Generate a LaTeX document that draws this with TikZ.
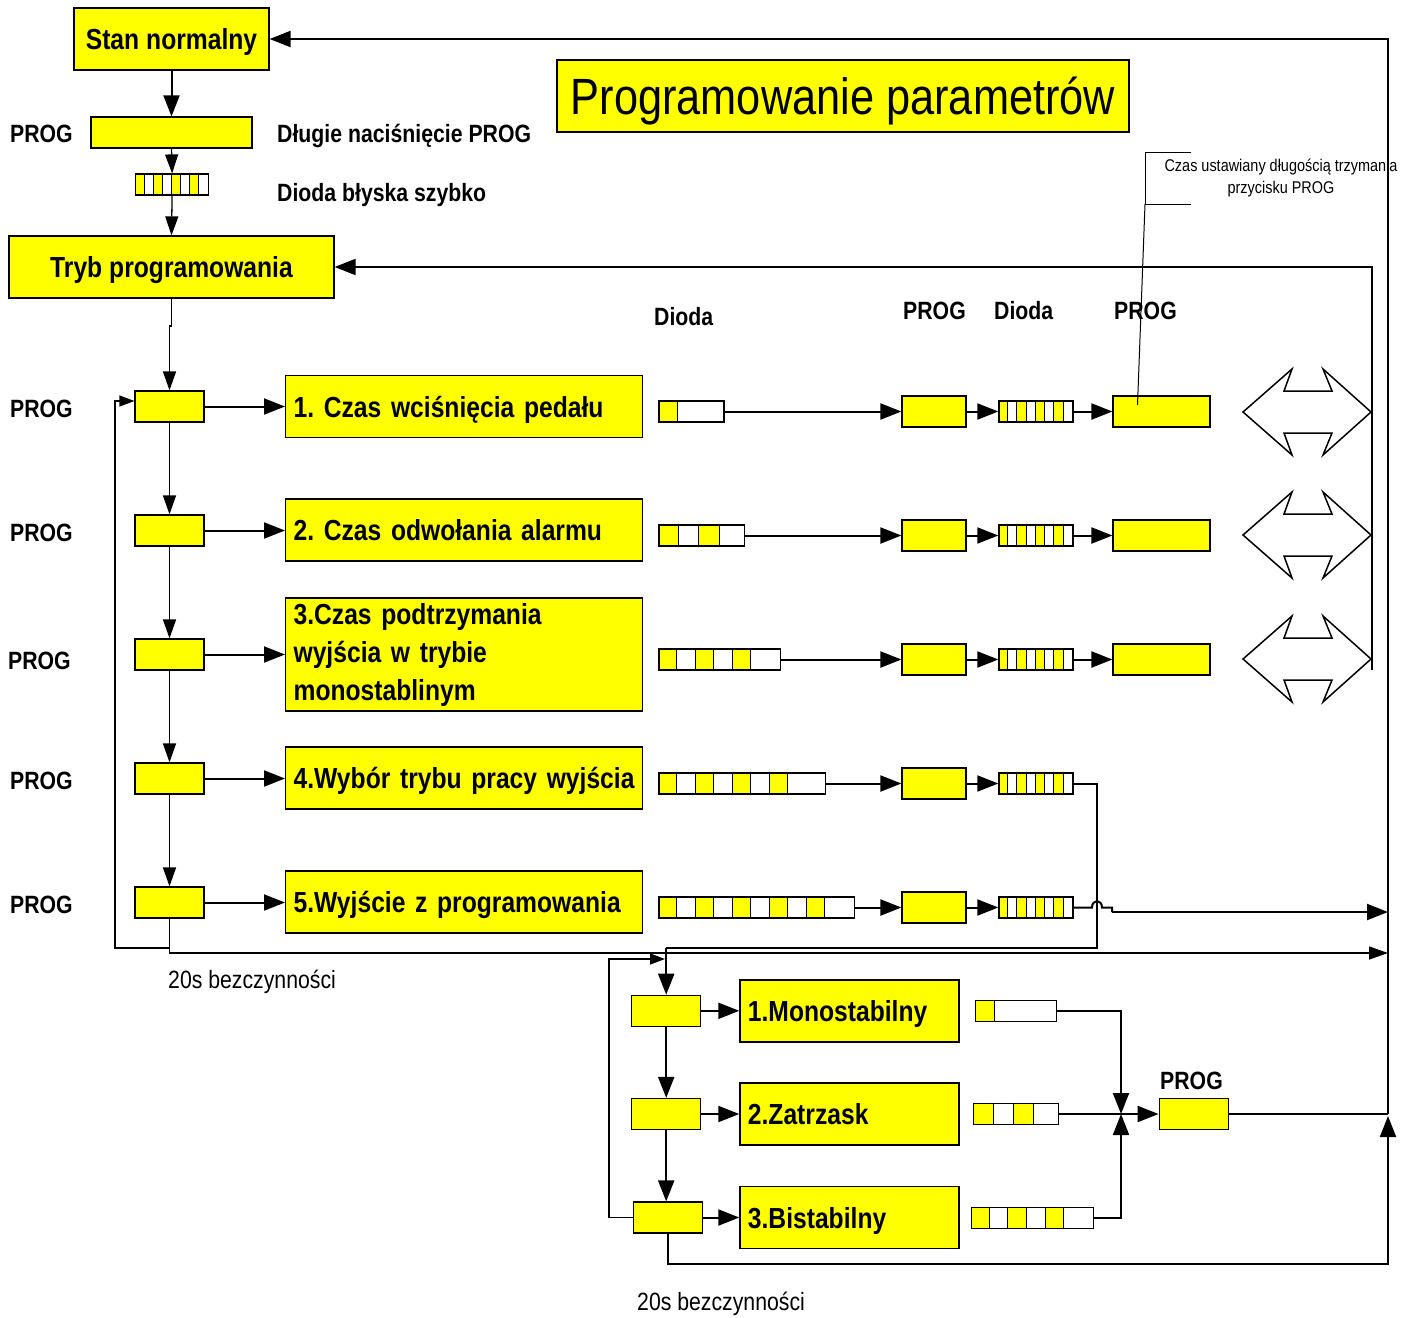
\documentclass[tikz,border=0pt]{standalone}
\usepackage{fontspec}
\setmainfont{Liberation Sans}[FakeStretch=0.85]
\usetikzlibrary{arrows.meta,calc}
\definecolor{ledy}{HTML}{FFFF00}
\frenchspacing
\newcommand\bxfont{\fontsize{29pt}{38pt}\selectfont\bfseries\frenchspacing\setlength{\spaceskip}{0.24em plus 0.05em}}
\tikzset{
  ybox/.style={draw=black, fill=ledy, line width=1.2pt, inner sep=0pt},
  boxtxt/.style={font=\bxfont},
  cap29/.style={text height=21pt, text depth=0pt},
  lbl/.style={font=\fontsize{25pt}{30pt}\selectfont\bfseries, inner sep=0pt, text height=18pt, text depth=0pt, anchor=west},
  reg/.style={font=\fontsize{25pt}{30pt}\selectfont, inner sep=0pt, text height=18pt, text depth=0pt, anchor=west},
  conn/.style={line width=2pt, -{Triangle[length=21pt,width=16pt]}},
  tconn/.style={line width=1.3pt, -{Triangle[length=19pt,width=13pt]}},
  sconn/.style={line width=1.2pt, -{Triangle[length=15pt,width=11pt]}},
  wire/.style={line width=2pt},
  twire/.style={line width=1.3pt},
  pbox/.style={ybox, minimum width=69pt, minimum height=31pt},
  rowbox/.style={ybox, boxtxt, anchor=west, text width=341pt, align=left, inner xsep=8pt, minimum height=62pt},
  subbox/.style={ybox, boxtxt, anchor=west, text width=203pt, align=left, inner xsep=8pt, minimum height=62pt},
  blockarrow/.style={draw=black, line width=1.5pt, line join=miter},
}
\newcommand\ledstrip[7]{%
  \pgfmathsetmacro\lsTot{(2*#4-1)*#5+#6}%
  \pgfmathtruncatemacro\lsN{2*#4-1}%
  \foreach \lsI in {1,...,#4}{\fill[ledy] ({#2+(2*\lsI-2)*#5},{#3-#7/2}) rectangle ++(#5,#7);}%
  \foreach \lsI in {1,...,\lsN}{\draw[line width=1pt] ({#2+\lsI*#5},{#3-#7/2}) -- ++(0,#7);}%
  \node[draw=black, line width=1.2pt, inner sep=0pt, minimum width=\lsTot pt, minimum height=#7 pt, anchor=west] (#1) at (#2,#3) {};%
}
\newcommand\dblarrow[1]{%
  \draw[blockarrow] (1243,#1) -- (1292,{#1-43}) -- (1284,{#1-21}) -- (1332,{#1-21}) -- (1323,{#1-43}) -- (1371,#1) -- (1323,{#1+43}) -- (1332,{#1+21}) -- (1284,{#1+21}) -- (1292,{#1+43}) -- cycle;%
}
\begin{document}
\begin{tikzpicture}[x=1pt,y=-1pt]
\useasboundingbox (0,0) rectangle (1415,1317);

% ---------- top part
\node[ybox, boxtxt, cap29, minimum width=195pt, minimum height=62pt] (sn) at (171.5,39) {Stan normalny};
\node[ybox, minimum width=161pt, minimum height=31pt] (p0) at (171.5,132.5) {};
\node[lbl] (p0l) at (10,133) {PROG};
\node[lbl] (p0t) at (277,133) {Długie naciśnięcie PROG};
\ledstrip{s0}{135}{184.5}{4}{9.125}{9.125}{21}
\node[lbl] (s0t) at (277,192) {Dioda błyska szybko};
\node[ybox, boxtxt, cap29, minimum width=325pt, minimum height=62pt] (tryb) at (171.5,267) {Tryb programowania};
\node[ybox, minimum width=572pt, minimum height=72pt, font=\fontsize{51pt}{60pt}\selectfont, text height=36.5pt, text depth=0pt] (title) at (843,96) {Programowanie parametrów};

\draw[conn] (sn.south) -- (p0.north);
\draw[tconn] (p0.south) -- (s0.north);
\draw[tconn] (s0.south) -- (tryb.north);

% ---------- annotation
\node[font=\fontsize{17pt}{22pt}\selectfont, align=center, inner sep=0pt] (note) at (1281,178) {Czas ustawiany długością trzymania\\przycisku PROG};

% ---------- column labels
\node[lbl] (hd1) at (654,316) {Dioda};
\node[lbl] (hp1) at (903,310) {PROG};
\node[lbl] (hd2) at (994,310) {Dioda};
\node[lbl] (hp2) at (1114,310) {PROG};

% ---------- left column
\node[pbox] (r1p) at (169.5,406.5) {};
\node[pbox] (r2p) at (169.5,530.5) {};
\node[pbox] (r3p) at (169.5,654.5) {};
\node[pbox] (r4p) at (169.5,778.5) {};
\node[pbox] (r5p) at (169.5,902.5) {};
\node[lbl] (l1) at (10,408) {PROG};
\node[lbl] (l2) at (10,532) {PROG};
\node[lbl] (l3) at (8,660) {PROG};
\node[lbl] (l4) at (10,780) {PROG};
\node[lbl] (l5) at (10,904) {PROG};

\node[rowbox, cap29] (r1b) at (285,406.5) {1. Czas wciśnięcia pedału};
\node[rowbox, cap29] (r2b) at (285,530) {2. Czas odwołania alarmu};
\node[rowbox, minimum height=113pt] (r3b) at (285,654.5) {3.Czas podtrzymania\\wyjścia w trybie\\monostablinym};
\node[rowbox, cap29] (r4b) at (285,778) {4.Wybór trybu pracy wyjścia};
\node[rowbox, cap29] (r5b) at (285,902) {5.Wyjście z programowania};

\coordinate (tj) at (171.5,326);
\draw[twire] (tryb.south) -- (tj);
\draw[tconn] (tj) -| (r1p.north);
\draw[tconn] (r1p.south) -- (r2p.north);
\draw[tconn] (r2p.south) -- (r3p.north);
\draw[tconn] (r3p.south) -- (r4p.north);
\draw[tconn] (r4p.south) -- (r5p.north);
\foreach \i in {1,...,5}{\draw[conn] (r\i p.east) -- (r\i p.east -| r\i b.west);}

% loop and timeout
\coordinate (lb) at (169.5,948);
\coordinate (lbl0) at (115,948);
\coordinate (ltop) at (115,401);
\draw[sconn] (lb) -- (lbl0) -- (ltop) -- (ltop -| r1p.west);
\coordinate (e20) at (1388,953);
\draw[tconn] (r5p.south) |- (e20);
\node[reg] (t20a) at (168,979) {20s bezczynności};

% ---------- LED strips
\ledstrip{r1s}{658.3}{411.5}{1}{19}{46}{21}
\ledstrip{r2s}{658.3}{535.5}{2}{20.3}{25}{21}
\ledstrip{r3s}{658.3}{659.5}{3}{18.5}{29.3}{21}
\ledstrip{r4s}{658.3}{783.5}{4}{18.5}{37}{21}
\ledstrip{r5s}{658.3}{907.5}{5}{18.5}{29}{21}

\foreach \i/\y in {1/411.5,2/535.5,3/659.5,4/783.5,5/907.5}{
  \node[ybox, minimum width=64pt, minimum height=31pt] (r\i q) at (934,\y) {};
  \ledstrip{r\i f}{998.3}{\y}{4}{9.25}{9.25}{21}
}
\foreach \i/\y in {1/411.5,2/535.5,3/659.5}{
  \node[ybox, minimum width=97pt, minimum height=31pt] (r\i z) at (1161.5,\y) {};
}
\foreach \i in {1,...,5}{
  \draw[conn] (r\i s.east) -- (r\i s.east -| r\i q.west);
  \draw[conn] (r\i q.east) -- (r\i q.east -| r\i f.west);
}
\foreach \i in {1,...,3}{
  \draw[conn] (r\i f.east) -- (r\i f.east -| r\i z.west);
}

% annotation bracket
\draw[line width=1pt] (1191,152) -- (1145,152) -- (1145,204) -- (1191,204);
\coordinate (nb) at (1145,204);
\coordinate (ne) at (1137.5,405);
\draw[line width=1pt] (nb) -- (ne);

% block double arrows
\dblarrow{412}
\dblarrow{535}
\dblarrow{659}

% return to programming mode
\coordinate (rb) at (1372,670);
\draw[conn] (rb) |- (tryb.east);

% ---------- sub menu
\node[pbox] (sp1) at (666.2,1010.8) {};
\node[pbox] (sp2) at (666.2,1114) {};
\node[pbox] (sp3) at (667.8,1217.5) {};
\node[subbox, cap29] (sb1) at (739.3,1011) {1.Monostabilny};
\node[subbox, cap29] (sb2) at (739.3,1114) {2.Zatrzask};
\node[subbox, cap29] (sb3) at (739.3,1217.5) {3.Bistabilny};
\draw[conn] (sp1.south) -- (sp2.north);
\draw[conn] (sp2.south) -- (sp2.south |- sp3.north);
\foreach \i in {1,2,3}{\draw[conn] (sp\i.east) -- (sp\i.east -| sb\i.west);}

\ledstrip{s1s}{975}{1011}{1}{19}{62}{21}
\ledstrip{s2s}{972.7}{1114}{2}{20.3}{24.4}{21}
\ledstrip{s3s}{970.7}{1217.7}{3}{18.6}{29}{21}

\node[ybox, minimum width=69pt, minimum height=31pt] (spp) at (1193.7,1114) {};
\node[lbl] (sppl) at (1160,1080) {PROG};
\coordinate (jn) at (1121,1114);
\draw[conn] (s1s.east) -| (jn);
\draw[conn] (s3s.east) -| (jn);
\draw[conn] (s2s.east) -- (s2s.east -| spp.west);

% entry into sub menu from row 4
\coordinate (k1) at (1097,948);
\coordinate (k2) at (666.2,948);
\draw[wire] (r4f.east) -| (k1) -- (k2);
\draw[conn] (k2) -- (sp1.north);

% sub loop
\coordinate (sl1) at (609,1217.5);
\coordinate (sl2) at (609,959);
\coordinate (sl3) at (665,959);
\draw[sconn] (sp3.west) -- (sl1) -- (sl2) -- (sl3);

% row 5 exit with line hop
\coordinate (h1) at (1092,907.5);
\coordinate (h2) at (1102,907.5);
\coordinate (h3) at (1112,907.5);
\coordinate (h4) at (1112,912);
\coordinate (h5) at (1388,912);
\draw[wire] (r5f.east) -- (h1) .. controls (1092,899) and (1102,899) .. (h2) -- (h3) -- (h4);
\draw[conn] (h4) -- (h5);

% back to normal state
\coordinate (rt) at (1388,1114);
\draw[wire] (spp.east) -- (rt);
\draw[conn] (rt) |- (sn.east);
\coordinate (bt) at (1388,1264);
\coordinate (bu) at (1388,1116);
\draw[conn] (sp3.south) |- (bt) -- (bu);
\node[reg] (t20b) at (637,1301) {20s bezczynności};
\end{tikzpicture}
\end{document}
